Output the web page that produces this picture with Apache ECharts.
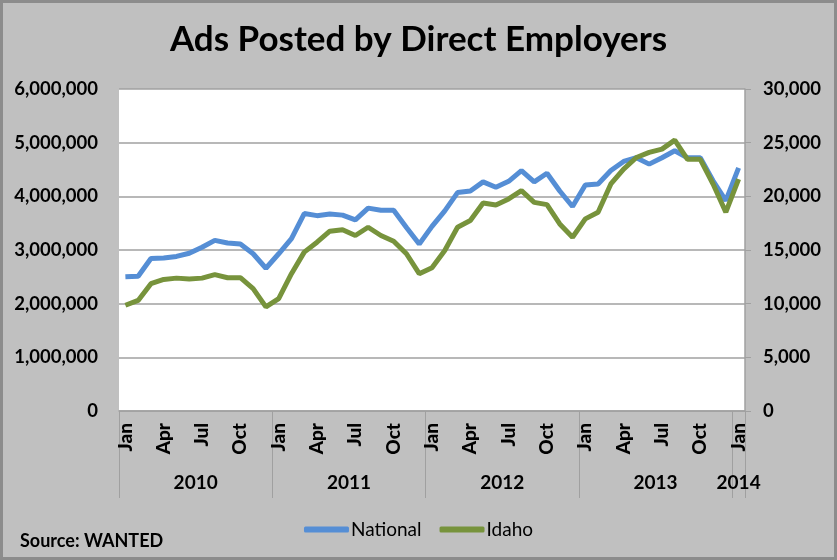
<!DOCTYPE html>
<html>
<head>
<meta charset="utf-8">
<script src="https://cdn.jsdelivr.net/npm/echarts@6/dist/echarts.min.js"></script>
<style>
  body { margin: 0; }
  #wrap { position: relative; width: 837px; height: 560px; background: #c0c0c0; }
  #chart { position: absolute; left: 0; top: 0; width: 837px; height: 560px; }
  #frame { position: absolute; left: 0; top: 0; width: 837px; height: 560px;
           box-sizing: border-box; border: 3px solid #8c8c8c; pointer-events: none; }
</style>
</head>
<body>
<div id="wrap"><div id="chart"></div><div id="frame"></div></div>
<script>
var monthNames = ['Jan', 'Feb', 'Mar', 'Apr', 'May', 'Jun', 'Jul', 'Aug', 'Sep', 'Oct', 'Nov', 'Dec'];
var years = ['2010', '2011', '2012', '2013', '2014'];

// Jan 2010 .. Jan 2014
var national = [
    2500000, 2510000, 2840000, 2850000, 2880000, 2940000, 3050000, 3180000, 3130000, 3110000, 2930000, 2660000,
    2930000, 3210000, 3680000, 3640000, 3670000, 3650000, 3560000, 3780000, 3740000, 3740000, 3420000, 3110000,
    3440000, 3730000, 4070000, 4100000, 4270000, 4170000, 4280000, 4480000, 4270000, 4430000, 4100000, 3810000,
    4210000, 4230000, 4480000, 4650000, 4720000, 4600000, 4720000, 4850000, 4720000, 4720000, 4290000, 3920000,
    4530000
];
var idaho = [
    9850, 10300, 11860, 12260, 12380, 12290, 12380, 12700, 12420, 12420, 11400, 9700,
    10470, 12790, 14800, 15730, 16750, 16880, 16350, 17120, 16350, 15820, 14650, 12790,
    13350, 14950, 17120, 17740, 19380, 19200, 19760, 20530, 19440, 19230, 17430, 16190,
    17900, 18520, 21150, 22540, 23620, 24090, 24400, 25240, 23450, 23450, 21150, 18520,
    21600
];
var leftTicks = [0, 1000000, 2000000, 3000000, 4000000, 5000000, 6000000];
var rightTicks = [0, 5000, 10000, 15000, 20000, 25000, 30000];

// year group boundaries / label centres, in month slots
var yearBounds = [0, 12, 24, 36, 48, 49];
var yearCentres = [6, 18, 30, 42, 48.5];

var categories = [];
for (var i = 0; i < national.length; i++) {
    categories.push(monthNames[i % 12]);
}

function withCommas(v) {
    return String(v).replace(/\B(?=(\d{3})+(?!\d))/g, ',');
}

var chartDom = document.getElementById('chart');
var myChart = echarts.init(chartDom);
var font = 'Lato, "Open Sans", sans-serif';
var gray = '#a0a0a0';

var option = {
    backgroundColor: 'transparent',
    textStyle: { fontFamily: font },
    title: [
        {
            text: 'Ads Posted by Direct Employers',
            left: 'center',
            top: 17,
            textStyle: { fontFamily: font, fontSize: 35, fontWeight: 'bold', color: '#000' }
        },
        {
            text: 'Source: WANTED',
            left: 15,
            top: 527,
            textStyle: { fontFamily: font, fontSize: 18, fontWeight: 'bold', color: '#000' }
        }
    ],
    legend: {
        data: ['National', 'Idaho'],
        left: 'center',
        top: 515,
        icon: 'roundRect',
        itemWidth: 45,
        itemHeight: 6,
        itemGap: 18,
        textStyle: { fontFamily: font, fontSize: 19, color: '#000', padding: [0, 0, 0, -3] }
    },
    grid: {
        left: 119,
        top: 89,
        right: 92,
        bottom: 149,
        show: true,
        backgroundColor: '#fff',
        borderWidth: 0
    },
    xAxis: [
        {
            type: 'category',
            data: categories,
            boundaryGap: true,
            axisLine: { show: true, lineStyle: { color: gray, width: 1.5 } },
            axisTick: { show: false },
            axisLabel: {
                interval: 2,
                rotate: 90,
                margin: 12,
                fontFamily: font,
                fontSize: 19,
                fontWeight: 900,
                color: '#000'
            }
        },
        {
            type: 'value',
            position: 'bottom',
            min: 0,
            max: 49,
            axisLine: { show: false },
            splitLine: { show: false },
            axisTick: {
                show: true,
                customValues: yearBounds,
                length: 87,
                lineStyle: { color: gray, width: 1 }
            },
            axisLabel: {
                customValues: yearCentres,
                margin: 62,
                fontFamily: font,
                fontSize: 19,
                fontWeight: 'bold',
                color: '#000',
                formatter: function (v) {
                    return years[yearCentres.indexOf(v)];
                }
            }
        }
    ],
    yAxis: [
        {
            type: 'value',
            min: leftTicks[0],
            max: leftTicks[leftTicks.length - 1],
            interval: leftTicks[1] - leftTicks[0],
            axisLine: { show: false },
            axisTick: { show: false },
            splitLine: { show: true, lineStyle: { color: gray, width: 1.5 } },
            axisLabel: {
                margin: 21,
                fontFamily: font,
                fontSize: 18.5,
                fontWeight: 'bold',
                color: '#000',
                formatter: withCommas
            }
        },
        {
            type: 'value',
            min: rightTicks[0],
            max: rightTicks[rightTicks.length - 1],
            interval: rightTicks[1] - rightTicks[0],
            axisLine: { show: true, lineStyle: { color: gray, width: 1.5 } },
            axisTick: { show: true, length: 6, lineStyle: { color: gray } },
            splitLine: { show: false },
            axisLabel: {
                margin: 18,
                fontFamily: font,
                fontSize: 18.5,
                fontWeight: 'bold',
                color: '#000',
                formatter: withCommas
            }
        }
    ],
    series: [
        {
            name: 'National',
            type: 'line',
            data: national,
            yAxisIndex: 0,
            symbol: 'none',
            lineStyle: { width: 5, color: '#558ed5' },
            itemStyle: { color: '#558ed5' }
        },
        {
            name: 'Idaho',
            type: 'line',
            data: idaho,
            yAxisIndex: 1,
            symbol: 'none',
            lineStyle: { width: 5, color: '#77933c' },
            itemStyle: { color: '#77933c' }
        }
    ]
};

option && myChart.setOption(option);
</script>
</body>
</html>
